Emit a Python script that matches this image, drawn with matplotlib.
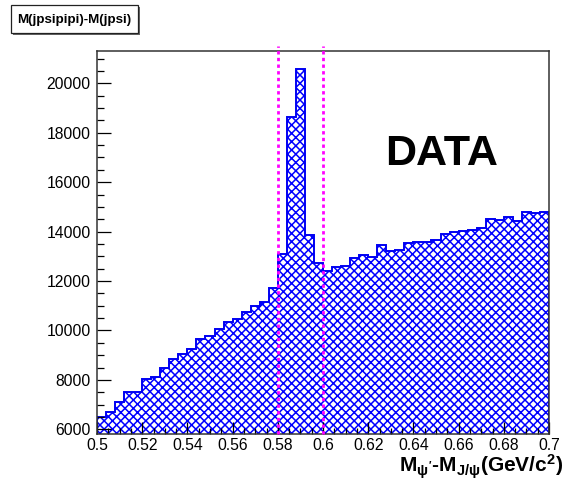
import matplotlib
matplotlib.use("Agg")
import matplotlib.pyplot as plt
import numpy as np
from matplotlib.ticker import MultipleLocator, FormatStrFormatter
from matplotlib.patches import Rectangle

plt.rcParams['font.family'] = ['Liberation Sans', 'DejaVu Sans']
plt.rcParams['mathtext.fontset'] = 'custom'
plt.rcParams['mathtext.rm'] = 'Liberation Sans:bold'
plt.rcParams['mathtext.bf'] = 'Liberation Sans:bold'
plt.rcParams['mathtext.it'] = 'Liberation Sans:bold'
plt.rcParams['hatch.linewidth'] = 1.1

# ---- data ----
x_min, x_max, n_bins = 0.5, 0.7, 50
counts = [6510, 6712, 7117, 7497, 7522, 8023, 8104, 8493, 8845, 9035,
          9238, 9654, 9776, 10059, 10355, 10452, 10735, 11002, 11164, 11730,
          13094, 18651, 20569, 13863, 12718, 12406, 12556, 12621, 12945, 13066,
          12961, 13446, 13204, 13244, 13527, 13580, 13592, 13661, 13892, 13997,
          14037, 14078, 14159, 14523, 14458, 14604, 14442, 14806, 14741, 14794]
cut_lines = [0.58, 0.60]
title_text = "M(jpsipipi)-M(jpsi)"
label_text = "DATA"
xlabel_text = r"M$_{\psi'}$-M$_{J/\psi}$(GeV/c$^{2}$)"

edges = np.linspace(x_min, x_max, n_bins + 1)

W, H = 566, 486
fig = plt.figure(figsize=(W / 100, H / 100), dpi=100)
ax = fig.add_axes([97 / W, 1 - 433.5 / H, (549 - 97) / W, (433.5 - 50.7) / H])

blue = (0.0, 0.0, 1.0)
ax.stairs(counts, edges, fill=True, facecolor='white', edgecolor=blue,
          hatch='xxxx', linewidth=0, baseline=0)
ax.stairs(counts, edges, fill=False, color=(0.0, 0.0, 0.95), linewidth=1.4)

for xv in cut_lines:
    ax.axvline(xv, ymin=0, ymax=1.012, color='#ff00ff', linestyle=(0, (1.2, 1.2)),
               linewidth=2.0, clip_on=False, zorder=5)

ax.set_xlim(x_min, x_max)
ax.set_ylim(5830, 21319)

ax.xaxis.set_major_locator(MultipleLocator(0.02))
ax.xaxis.set_minor_locator(MultipleLocator(0.005))
ax.xaxis.set_major_formatter(FormatStrFormatter('%g'))
ax.yaxis.set_major_locator(MultipleLocator(2000))
ax.yaxis.set_minor_locator(MultipleLocator(500))

ax.tick_params(which='both', direction='in', top=False, right=False, labelsize=11.3,
               colors='black', width=0.9)
ax.tick_params(which='major', axis='y', length=10, pad=4.5)
ax.tick_params(which='minor', axis='y', length=5)
ax.tick_params(which='major', axis='x', length=9, pad=3)
ax.tick_params(which='minor', axis='x', length=4.5)
for sp in ax.spines.values():
    sp.set_linewidth(1.1)
    sp.set_color('#333333')

fig.text(442 / W, 1 - 154 / H, label_text,
         fontsize=31, fontweight='bold', ha='center', va='center')

fig.text(563 / W, 1 - 472 / H, xlabel_text, fontsize=15, fontweight='bold',
         ha='right', va='baseline')

# title box with shadow
fig.patches.append(Rectangle((12.7 / W, 1 - 35 / H), 127.5 / W, 28 / H,
                             transform=fig.transFigure, facecolor='#666666',
                             edgecolor='none', zorder=1))
fig.patches.append(Rectangle((10.7 / W, 1 - 33 / H), 127.5 / W, 28 / H,
                             transform=fig.transFigure, facecolor='white',
                             edgecolor='#222222', linewidth=0.9, zorder=2))
fig.text(74 / W, 1 - 19.5 / H, title_text, fontsize=9.6, fontweight='bold',
         ha='center', va='center', zorder=3)

fig.savefig('out.png', dpi=100)
